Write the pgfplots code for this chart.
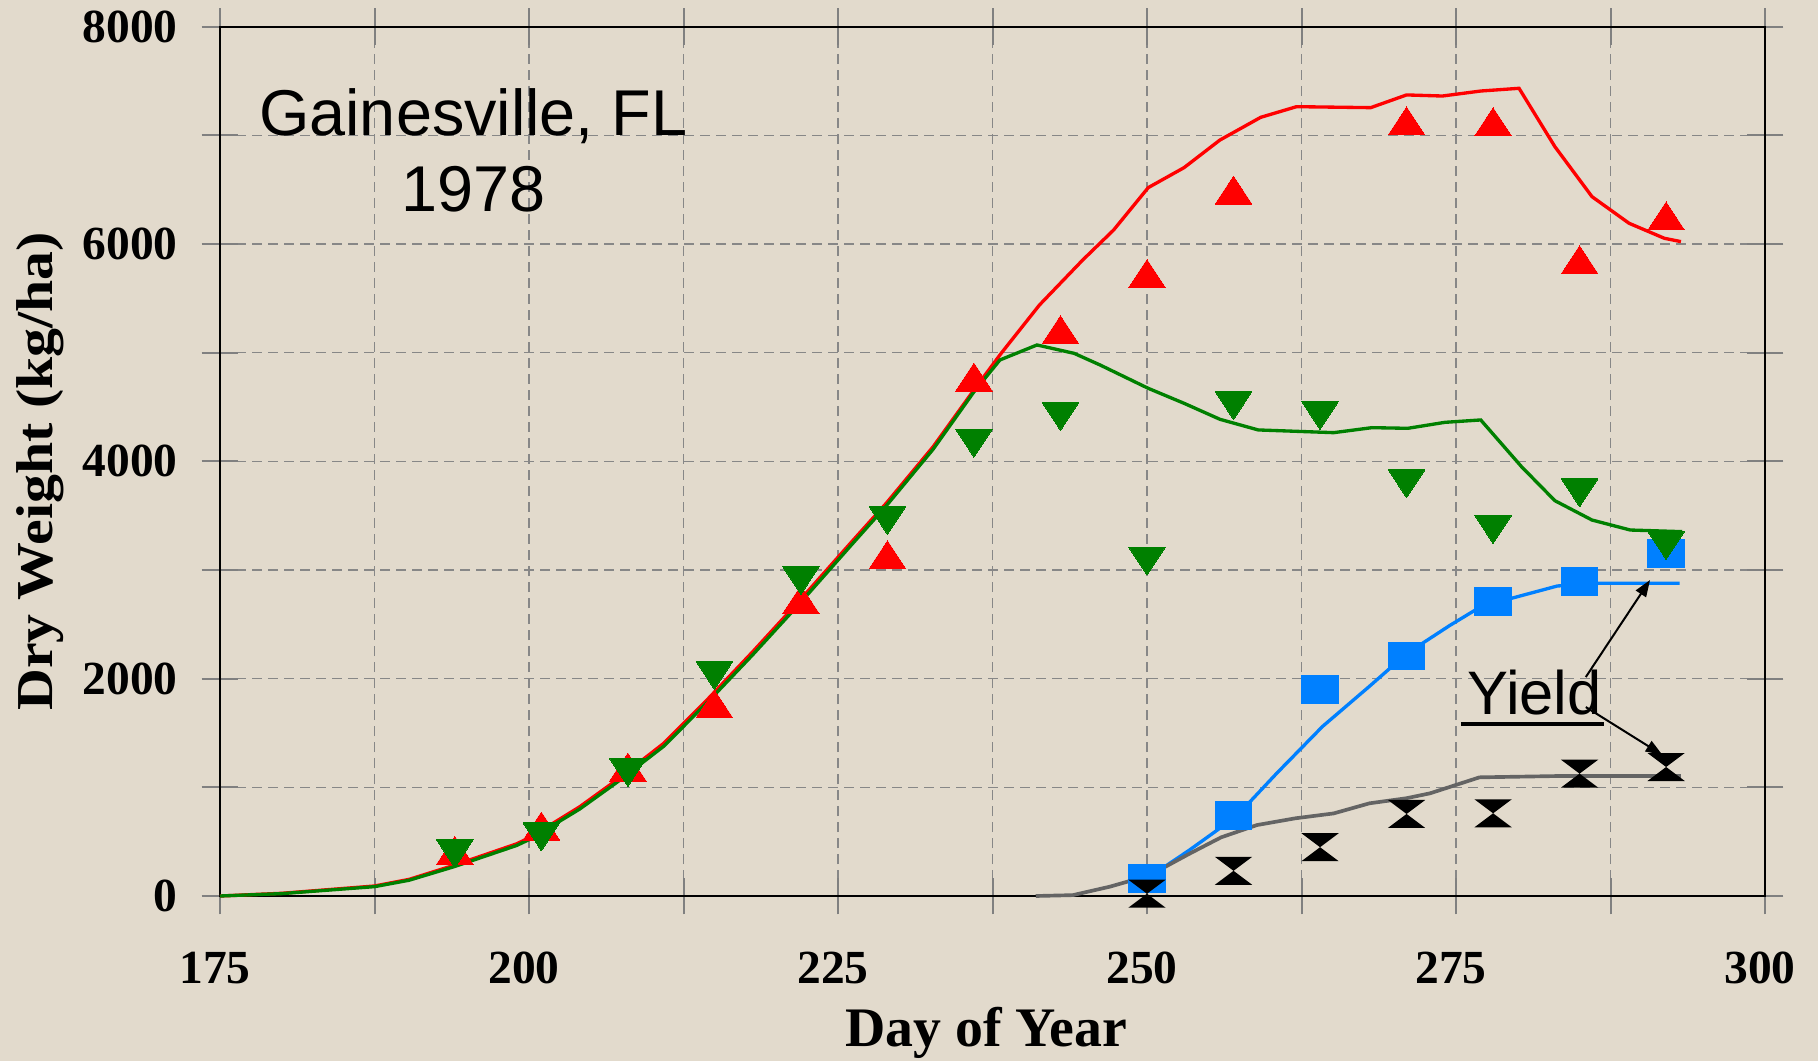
\documentclass[border=0pt]{standalone}
\usepackage{pgfplots}
\pgfplotsset{compat=1.18}
\usepackage{fontspec}
\setmainfont{Liberation Serif}
\newfontfamily\arial{Liberation Sans}
\usetikzlibrary{arrows.meta}
\definecolor{bg}{RGB}{226,218,204}
\definecolor{simred}{RGB}{255,0,0}
\definecolor{simgreen}{RGB}{0,128,0}
\definecolor{simblue}{RGB}{0,128,255}
\definecolor{simgray}{RGB}{100,100,100}
\definecolor{gridgray}{RGB}{135,135,135}
\pgfdeclareplotmark{hourglass}{%
  \pgfpathmoveto{\pgfqpoint{-\pgfplotmarksize}{0.75\pgfplotmarksize}}%
  \pgfpathlineto{\pgfqpoint{\pgfplotmarksize}{0.75\pgfplotmarksize}}%
  \pgfpathlineto{\pgfqpoint{-\pgfplotmarksize}{-0.75\pgfplotmarksize}}%
  \pgfpathlineto{\pgfqpoint{\pgfplotmarksize}{-0.75\pgfplotmarksize}}%
  \pgfpathclose
  \pgfusepathqfill}
\begin{document}
\begin{tikzpicture}
\fill[bg] (-66bp,-49.5bp) rectangle (479.4bp,268.8bp);
\begin{axis}[
  at={(0,0)}, anchor=south west,
  scale only axis, width=463.5bp, height=260.8bp,
  xmin=175, xmax=300, ymin=0, ymax=8000,
  clip=false,
  xtick={175,200,...,300},
  minor xtick={187.5,212.5,237.5,262.5,287.5},
  ytick={0,2000,...,8000},
  minor ytick={1000,3000,5000,7000},
  grid=both,
  major grid style={gridgray, line width=0.4bp, dash pattern=on 3bp off 1.8bp},
  minor grid style={gridgray, line width=0.4bp, dash pattern=on 3bp off 1.8bp},
  tick align=center,
  major tick length=11bp, minor tick length=11bp,
  tick style={gray, line width=0.6bp},
  minor tick style={gray, line width=0.6bp},
  axis line style={black, line width=0.7bp},
  /pgf/number format/.cd, set thousands separator={}, assume math mode=true,
  /pgfplots/.cd,
  ticklabel style={font=\bfseries\fontsize{14.3}{14.3}\selectfont},
  xticklabel style={anchor=north, inner sep=0pt, yshift=-11bp, xshift=-1.5bp},
  yticklabel style={anchor=east, inner sep=0pt, xshift=-7bp},
  xlabel={Day of Year},
  xlabel style={at={(axis description cs:0.496,0)}, anchor=base, yshift=-45.2bp, inner sep=0pt, font=\bfseries\fontsize{16.8}{16.8}\selectfont},
]
% simulated lines
\addplot[simred, line width=1bp, no marks] coordinates {
(175,0) (180,25) (187.5,92) (190.3,153) (194,285) (199,480) (200.1,540)
(204.1,821) (207.1,1068) (210.9,1405) (214.4,1804) (218.1,2248) (221.9,2720)
(226,3246) (228.9,3614) (232.7,4135) (236,4657) (238.2,4994) (241.3,5439)
(244.8,5853) (247.3,6129) (250.1,6519) (253,6703) (255.9,6957) (259.2,7166)
(262.1,7264) (268.1,7255) (271,7372) (273.9,7362) (277,7408) (280.1,7433)
(283,6896) (286,6436) (289,6191) (291.85,6053) (293.2,6022)};
\addplot[simgreen, line width=1bp, no marks] coordinates {
(175,0) (180,22) (187.5,86) (190.3,145) (194,272) (199,465) (200.1,524)
(204.1,800) (207.1,1045) (210.9,1378) (214.4,1778) (218.1,2220) (221.9,2692)
(226,3220) (228.9,3590) (232.7,4112) (236,4640) (238.1,4933) (241.1,5071)
(244.1,4994) (246.2,4887) (250.1,4672) (253,4534) (255.9,4387) (259,4289)
(265.1,4264) (268.2,4310) (271.1,4304) (274.1,4359) (277,4381) (280.3,3951)
(283,3638) (286,3460) (289.1,3368) (293.3,3353)};
\addplot[simblue, line width=1bp, no marks] coordinates {
(250,160) (253.4,420) (257.2,730) (260.5,1130) (264.2,1560) (268,1930)
(271,2230) (274.5,2490) (277,2662) (279.5,2740) (283.2,2853) (286.6,2878)
(293.1,2878)};
\addplot[simgray, line width=1.1bp, no marks] coordinates {
(241,0) (244,8) (247,86) (250.2,190) (253.5,393) (256,540) (258.9,653)
(262,715) (265.1,760) (268,853) (271,900) (272.9,945) (276.9,1092)
(283.2,1104) (293.2,1104)};
% observed data
\addplot[only marks, mark=triangle*, mark size=6.35bp, mark options={simred, fill=simred, line width=0pt, yscale=0.88}] coordinates {
(194,377) (201,601) (208,1144) (215,1726) (222,2685) (229,3098) (236,4733)
(243,5169) (250,5686) (257,6454) (271,7090) (278,7083) (285,5813) (292,6216)};
\addplot[only marks, mark=square*, mark size=5.5bp, mark options={simblue, fill=simblue, line width=0pt, yscale=0.76}] coordinates {
(250,163) (257,739) (264,1902) (271,2209) (278,2708) (285,2893) (292,3154)};
\addplot[only marks, mark=triangle*, mark size=6.35bp, mark options={simgreen, fill=simgreen, line width=0pt, rotate=180, yscale=0.88}] coordinates {
(194,433) (201,589) (208,1181) (215,2074) (222,2948) (229,3500) (236,4211)
(243,4457) (250,3126) (257,4557) (264,4466) (271,3838) (278,3417) (285,3755)
(292,3270)};
\addplot[only marks, mark=hourglass, mark size=5.6bp, mark options={black, fill=black}] coordinates {
(250,21) (257,232) (264,449) (271,755) (278,761) (285,1126) (292,1187)};
% annotations
\node[anchor=base, inner sep=0pt, font=\arial\fontsize{19.5}{19.5}\selectfont] at (axis cs:195.5,6997) {Gainesville, FL};
\node[anchor=base, inner sep=0pt, font=\arial\fontsize{19.5}{19.5}\selectfont] at (axis cs:195.5,6298) {1978};
\node[anchor=base, inner sep=0pt, font=\arial\fontsize{18.5}{18.5}\selectfont] at (axis cs:281.35,1666) {Yield};
\draw[black, line width=1.2bp] (axis cs:275.4,1583) -- (axis cs:287.0,1583);
\draw[black, line width=0.6bp, -{Triangle[length=5bp,width=3.6bp]}] (axis cs:285.5,2015) -- (axis cs:290.7,2908);
\draw[black, line width=0.6bp, -{Triangle[length=5bp,width=3.6bp]}] (axis cs:285.5,1739) -- (axis cs:291.7,1298);
\node[anchor=base, inner sep=0pt, rotate=90, xscale=1.116, font=\bfseries\fontsize{15.6}{15.6}\selectfont] at (axis description cs:-0.1085,0.4884) {Dry Weight (kg/ha)};
\end{axis}
\end{tikzpicture}
\end{document}
